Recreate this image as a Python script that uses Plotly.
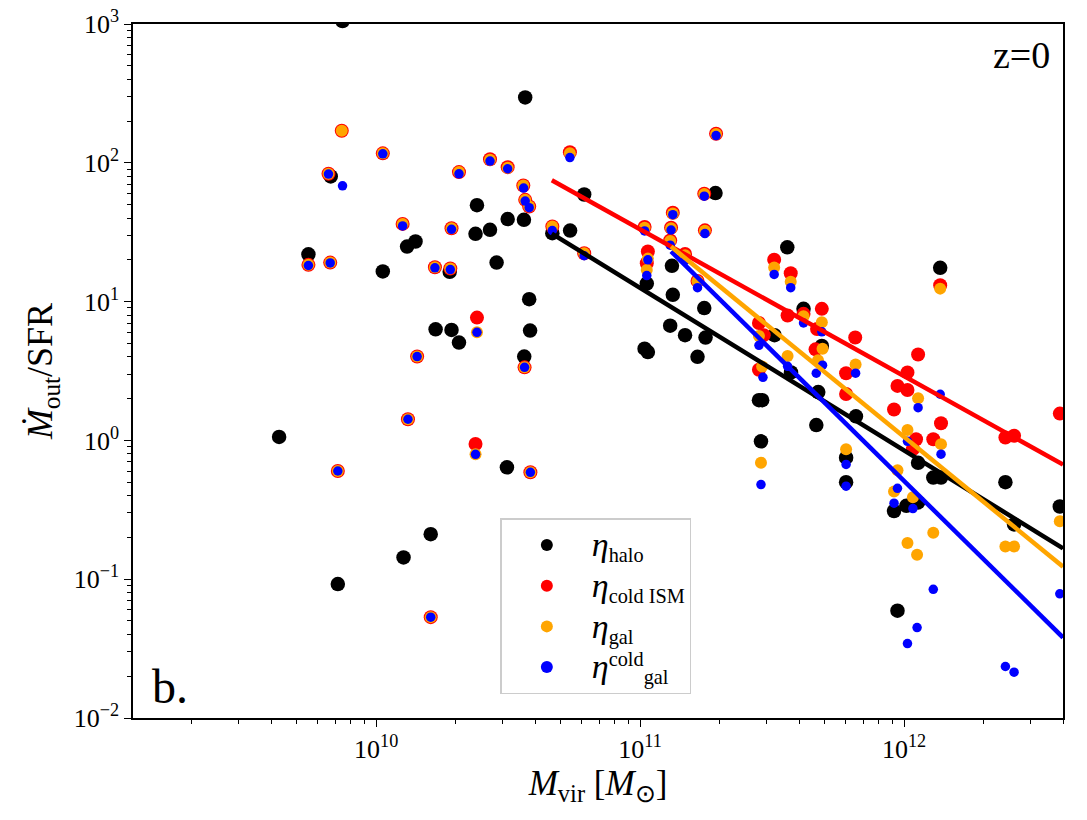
import plotly.graph_objects as go

# ---------------- data ----------------
halo_m = [4.29e9, 5.54e9, 6.73e9, 7.16e9, 7.46e9, 1.06e10, 1.27e10, 1.31e10, 1.41e10, 1.61e10,
          1.68e10, 1.90e10, 1.93e10, 2.06e10, 2.41e10, 2.38e10, 2.70e10, 2.86e10, 3.13e10, 3.15e10,
          3.63e10, 3.67e10, 3.64e10, 3.80e10, 3.83e10, 4.65e10, 5.43e10, 6.14e10, 1.04e11, 1.06e11,
          1.07e11, 1.30e11, 1.32e11, 1.33e11, 1.48e11, 1.65e11, 1.75e11, 1.77e11, 1.93e11, 2.82e11,
          2.87e11, 2.90e11, 3.23e11, 3.61e11, 3.73e11, 4.16e11, 4.65e11, 4.73e11, 4.88e11, 6.03e11,
          6.03e11, 6.57e11, 9.16e11, 9.44e11, 1.02e12, 1.13e12, 1.13e12, 1.29e12, 1.37e12, 1.38e12,
          2.42e12, 2.61e12, 3.89e12]
halo_eta = [1.06, 21.9, 79.7, 0.0922, 1050, 16.5, 0.1435, 24.9, 27.1, 0.211,
            6.32, 16.4, 6.25, 5.07, 49.5, 30.8, 32.9, 19.1, 0.64, 39.3,
            38.8, 296, 4.02, 10.4, 6.18, 31.1, 32.5, 59.1, 4.58, 13.5,
            4.33, 6.70, 18.1, 11.2, 5.73, 4.0, 8.98, 5.51, 60.5, 1.95,
            0.984, 1.95, 5.73, 24.6, 3.09, 8.87, 1.29, 2.23, 4.79, 0.751,
            0.50, 1.49, 0.310, 0.0593, 0.338, 0.69, 0.357, 0.54, 17.5, 0.54,
            0.50, 0.248, 0.334]

coldism_m = [5.54e9, 6.60e9, 6.70e9, 7.16e9, 7.41e9, 1.06e10, 1.26e10, 1.32e10, 1.43e10, 1.61e10,
             1.67e10, 1.91e10, 1.93e10, 2.06e10, 2.38e10, 2.41e10, 2.70e10, 3.15e10, 3.61e10, 3.65e10,
             3.67e10, 3.80e10, 3.84e10, 4.65e10, 5.42e10, 6.14e10, 1.04e11, 1.06e11, 1.07e11, 1.30e11,
             1.31e11, 1.33e11, 1.48e11, 1.65e11, 1.75e11, 1.76e11, 1.94e11, 2.82e11, 2.82e11, 2.94e11,
             3.22e11, 3.62e11, 3.72e11, 4.16e11, 4.62e11, 4.68e11, 4.88e11, 6.03e11, 6.03e11, 6.53e11,
             9.16e11, 9.44e11, 1.03e12, 1.03e12, 1.08e12, 1.11e12, 1.13e12, 1.29e12, 1.37e12, 1.38e12,
             2.42e12, 2.61e12, 3.89e12]
coldism_eta = [18.4, 83.4, 19.1, 0.602, 170, 117, 36.3, 1.42, 4.02, 0.0533,
               17.7, 17.3, 33.8, 85.7, 0.942, 7.67, 106, 93, 68.7, 3.36,
               54.1, 48.4, 0.589, 34.8, 119, 22.3, 34.5, 18.9, 23.0, 27.6,
               34.1, 43.7, 22.0, 14.1, 59.8, 32.6, 162, 7.01, 3.23, 5.73,
               20.0, 7.94, 16.0, 8.16, 4.53, 6.34, 8.87, 3.05, 2.16, 5.51,
               1.67, 2.47, 3.09, 2.31, 0.865, 1.02, 4.16, 1.02, 13.1, 1.33,
               1.05, 1.08, 1.56]

gal_m = [5.54e9, 6.60e9, 6.70e9, 7.16e9, 7.41e9, 1.06e10, 1.26e10, 1.32e10, 1.43e10, 1.61e10,
         1.67e10, 1.91e10, 1.93e10, 2.06e10, 2.38e10, 2.41e10, 2.70e10, 3.15e10, 3.61e10, 3.65e10,
         3.67e10, 3.80e10, 3.84e10, 4.65e10, 5.42e10, 6.14e10, 1.04e11, 1.06e11, 1.07e11, 1.30e11,
         1.31e11, 1.33e11, 1.48e11, 1.65e11, 1.75e11, 1.76e11, 1.94e11, 2.82e11, 2.87e11, 2.90e11,
         3.22e11, 3.62e11, 3.72e11, 4.16e11, 4.72e11, 4.88e11, 4.91e11, 6.03e11, 6.55e11, 9.16e11,
         9.44e11, 1.03e12, 1.03e12, 1.08e12, 1.12e12, 1.13e12, 1.29e12, 1.37e12, 1.38e12, 2.42e12,
         2.61e12, 3.89e12]
gal_eta = [18.4, 83.4, 19.1, 0.602, 170, 117, 36.3, 1.42, 4.02, 0.0533,
           17.7, 17.3, 33.8, 85.7, 0.794, 6.01, 105, 92, 68.7, 3.36,
           54.1, 48.4, 0.589, 34.8, 117, 22.3, 34.0, 16.9, 20.4, 27.3,
           33.8, 43.2, 21.6, 14.0, 59.5, 32.4, 161, 5.66, 0.69, 3.41,
           17.6, 4.05, 13.9, 7.85, 3.78, 7.09, 4.58, 0.865, 3.52, 0.428,
           0.61, 1.19, 0.182, 0.389, 0.150, 2.01, 0.216, 12.4, 0.94, 0.172,
           0.172, 0.262]

galcold_m = [5.54e9, 6.60e9, 6.70e9, 7.16e9, 7.46e9, 1.06e10, 1.26e10, 1.32e10, 1.43e10, 1.61e10,
             1.67e10, 1.91e10, 1.93e10, 2.06e10, 2.38e10, 2.41e10, 2.70e10, 3.15e10, 3.62e10, 3.65e10,
             3.67e10, 3.80e10, 3.84e10, 4.65e10, 5.42e10, 6.14e10, 1.04e11, 1.06e11, 1.07e11, 1.30e11,
             1.31e11, 1.33e11, 1.48e11, 1.65e11, 1.75e11, 1.76e11, 1.94e11, 2.82e11, 2.87e11, 2.92e11,
             3.22e11, 3.62e11, 3.72e11, 4.16e11, 4.65e11, 4.88e11, 4.91e11, 6.03e11, 6.03e11, 6.55e11,
             9.16e11, 9.44e11, 1.03e12, 1.03e12, 1.08e12, 1.12e12, 1.13e12, 1.29e12, 1.37e12, 1.38e12,
             2.42e12, 2.61e12, 3.89e12]
galcold_eta = [18.2, 83.0, 19.0, 0.602, 68.3, 116, 35.1, 1.42, 4.02, 0.0533,
               17.5, 17.0, 33.2, 83.3, 0.794, 6.01, 103, 90.6, 65.7, 3.36,
               53.0, 47.5, 0.589, 32.5, 109, 21.4, 32.3, 15.4, 20.0, 25.5,
               32.8, 42.3, 19.7, 12.6, 57.5, 30.9, 157, 4.84, 0.481, 2.85,
               15.7, 3.42, 12.6, 7.01, 3.05, 6.06, 3.48, 0.671, 0.468, 3.05,
               0.353, 0.452, 0.984, 0.0344, 0.323, 0.0448, 1.72, 0.0845, 2.15, 0.795,
               0.0235, 0.0214, 0.0785]

# power-law fit lines (end points)
fit_halo_m = [4.63e10, 4.0e12]
fit_halo_eta = [30.9, 0.167]
fit_coldism_m = [4.63e10, 4.0e12]
fit_coldism_eta = [74.9, 0.67]
fit_gal_m = [1.31e11, 4.0e12]
fit_gal_eta = [24.9, 0.123]
fit_galcold_m = [1.31e11, 4.0e12]
fit_galcold_eta = [23.0, 0.038]

# tick labels
x_tick_vals = [1e10, 1e11, 1e12]
x_tick_text = ["10<sup>10</sup>", "10<sup>11</sup>", "10<sup>12</sup>"]
y_tick_vals = [1e-2, 1e-1, 1e0, 1e1, 1e2, 1e3]
y_tick_text = ["10<sup>−2</sup>", "10<sup>−1</sup>", "10<sup>0</sup>",
               "10<sup>1</sup>", "10<sup>2</sup>", "10<sup>3</sup>"]

ETA = '<span style="font-size:34px"><i>η</i></span>'
legend_labels = [ETA + "<sub>halo</sub>",
                 ETA + "<sub>cold ISM</sub>",
                 ETA + "<sub>gal</sub>",
                 ETA + "<sup>cold</sup><sub>gal</sub>"]

# ---------------- figure ----------------
FONT = "Liberation Serif"
fig = go.Figure()

scatter_specs = [
    (halo_m, halo_eta, "black", 14.5, legend_labels[0]),
    (coldism_m, coldism_eta, "red", 14, legend_labels[1]),
    (gal_m, gal_eta, "orange", 12, legend_labels[2]),
    (galcold_m, galcold_eta, "blue", 9.5, legend_labels[3]),
]
for i, (xs, ys, col, sz, name) in enumerate(scatter_specs):
    fig.add_trace(go.Scatter(x=xs, y=ys, mode="markers", name=name,
                             legendgroup="g%d" % i,
                             marker=dict(color=col, size=sz, line=dict(width=0))))

line_specs = [
    (fit_halo_m, fit_halo_eta, "black"),
    (fit_coldism_m, fit_coldism_eta, "red"),
    (fit_galcold_m, fit_galcold_eta, "blue"),
    (fit_gal_m, fit_gal_eta, "orange"),
]
for xs, ys, col in line_specs:
    fig.add_trace(go.Scatter(x=xs, y=ys, mode="lines", showlegend=False,
                             line=dict(color=col, width=4.5)))


def minor_vals(lo, hi):
    return [m * 10.0 ** e for e in range(lo, hi) for m in range(2, 10)]


axis_common = dict(
    type="log", tickmode="array", showgrid=False, zeroline=False, automargin=False,
    showline=True, linecolor="black", linewidth=1.5, mirror=True,
    ticks="outside", ticklen=7, tickwidth=1.2, tickcolor="black",
    tickfont=dict(family=FONT, size=26, color="black"),
)

fig.update_layout(
    width=1087, height=820,
    margin=dict(l=133, r=24, t=24, b=102),
    paper_bgcolor="white", plot_bgcolor="white",
    font=dict(family=FONT, color="black"),
    xaxis=dict(range=[9.079, 12.602], tickvals=x_tick_vals, ticktext=x_tick_text,
               minor=dict(tickmode="array", tickvals=minor_vals(9, 13), ticks="outside",
                          ticklen=4, tickwidth=1, tickcolor="black", showgrid=False),
               title=dict(text="<i>M</i><sub>vir</sub> [<i>M</i><sub>⊙</sub>]",
                          font=dict(family=FONT, size=35), standoff=1),
               **axis_common),
    yaxis=dict(range=[-2, 3], tickvals=y_tick_vals, ticktext=y_tick_text,
               minor=dict(tickmode="array", tickvals=minor_vals(-2, 3), ticks="outside",
                          ticklen=4, tickwidth=1, tickcolor="black", showgrid=False),
               title=dict(text="<i>Ṁ</i><sub>out</sub>/SFR",
                          font=dict(family=FONT, size=36), standoff=10),
               **axis_common),
    legend=dict(x=0.395, y=0.288, xanchor="left", yanchor="top",
                bgcolor="white", bordercolor="#cccccc", borderwidth=1.5,
                font=dict(family=FONT, size=29, color="black"),
                itemsizing="constant", itemwidth=80, tracegroupgap=0),
    annotations=[
        dict(text="z=0", xref="paper", yref="paper", x=0.988, y=0.955,
             xanchor="right", yanchor="middle", showarrow=False,
             font=dict(family=FONT, size=38, color="black")),
        dict(text="b.", xref="paper", yref="paper", x=0.018, y=0.005,
             xanchor="left", yanchor="bottom", showarrow=False,
             font=dict(family=FONT, size=48, color="black")),
    ],
)

fig.write_html("out.html")
